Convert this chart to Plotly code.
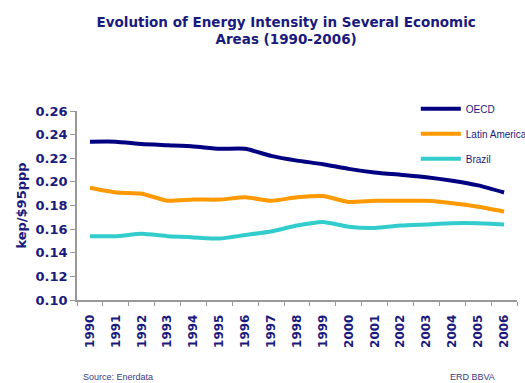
import plotly.graph_objects as go

years = [str(y) for y in range(1990, 2007)]
oecd = [0.234, 0.234, 0.232, 0.231, 0.230, 0.228, 0.228, 0.222, 0.218, 0.215,
        0.211, 0.208, 0.206, 0.204, 0.201, 0.197, 0.191]
latin_america = [0.195, 0.191, 0.190, 0.184, 0.185, 0.185, 0.187, 0.184, 0.187, 0.188,
                 0.183, 0.184, 0.184, 0.184, 0.182, 0.179, 0.175]
brazil = [0.154, 0.154, 0.156, 0.154, 0.153, 0.152, 0.155, 0.158, 0.163, 0.166,
          0.162, 0.161, 0.163, 0.164, 0.165, 0.165, 0.164]
y_ticks = [0.10, 0.12, 0.14, 0.16, 0.18, 0.20, 0.22, 0.24, 0.26]

navy = "#1a1a7e"
series = [
    ("OECD", oecd, "#000080"),
    ("Latin America", latin_america, "#ff9900"),
    ("Brazil", brazil, "#33cccc"),
]

fig = go.Figure()
for name, vals, color in series:
    fig.add_trace(go.Scatter(
        x=years, y=vals, name=name, mode="lines", legendgroup=name,
        line=dict(color=color, width=4, shape="spline", smoothing=0.5),
    ))

fig.update_layout(
    width=525, height=383,
    margin=dict(l=77, r=8, t=111, b=83, autoexpand=False),
    paper_bgcolor="white", plot_bgcolor="white",
    title=dict(
        text="Evolution of Energy Intensity in Several Economic<br>Areas (1990-2006)",
        x=0.545, xanchor="center", yref="container", y=0.93, yanchor="middle",
        font=dict(family="DejaVu Sans", size=13.5, color=navy, weight="bold"),
    ),
    showlegend=True,
    legend=dict(
        x=0.77, y=1.088, xanchor="left", yanchor="top",
        bgcolor="rgba(0,0,0,0)", tracegroupgap=6,
        font=dict(family="Liberation Sans", size=10, color=navy),
        itemwidth=40,
    ),
    xaxis=dict(
        type="category", range=[-0.5, len(years) - 0.5],
        showgrid=False, showline=True, linecolor="#999999",
        linewidth=1.5, ticks="outside", tickson="boundaries", ticklen=4,
        tickcolor="#999999", tickangle=-90, ticklabelstandoff=8,
        tickfont=dict(family="DejaVu Sans", size=12, color=navy, weight="bold"),
    ),
    yaxis=dict(
        range=[0.10, 0.26], tickvals=y_ticks, tickformat=".2f",
        showgrid=False, showline=True, linecolor="#999999", linewidth=1.5,
        ticks="outside", ticklen=5, tickcolor="#999999",
        tickfont=dict(family="DejaVu Sans", size=13, color=navy, weight="bold"),
        title=dict(text="kep/$95ppp", standoff=6,
                   font=dict(family="DejaVu Sans", size=13, color=navy, weight="bold")),
    ),
    annotations=[
        dict(text="Source: Enerdata", xref="paper", yref="paper", x=0.01, y=-0.41,
             xanchor="left", yanchor="middle", showarrow=False,
             font=dict(family="Liberation Sans", size=9, color="#3a3a8a")),
        dict(text="ERD BBVA", xref="paper", yref="paper", x=0.955, y=-0.41,
             xanchor="right", yanchor="middle", showarrow=False,
             font=dict(family="Liberation Sans", size=9, color="#3a3a8a")),
    ],
)

fig.write_html("out.html")
